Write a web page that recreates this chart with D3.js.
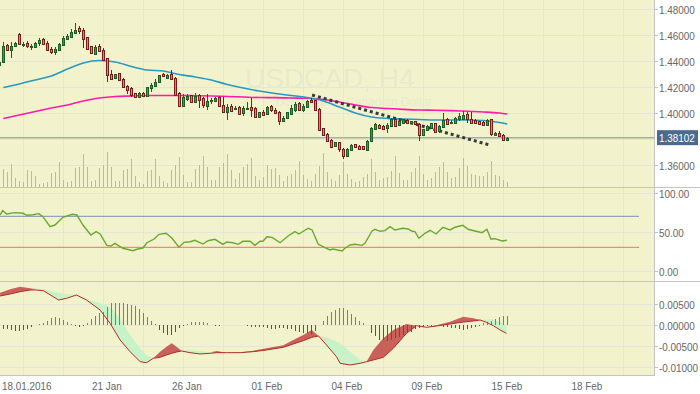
<!DOCTYPE html>
<html><head><meta charset="utf-8">
<script src="https://cdn.jsdelivr.net/npm/d3@7"></script>
<style>body{margin:0;background:#fff;font-family:"Liberation Sans",Arial,sans-serif}</style>
</head><body>
<svg id="c" width="700" height="394"></svg>
<script>
// ---- data (H4 candles, first index -1) ----
const firstIndex = -1;
const open = [1.4369,1.4392,1.4523,1.4485,1.4515,1.4608,1.4523,1.4538,1.4515,1.4508,1.4533,1.4569,1.4538,1.4492,1.4469,1.4485,1.4523,1.4569,1.4590,1.4621,1.4652,1.4641,1.4585,1.4513,1.4456,1.4513,1.4487,1.4421,1.4302,1.4267,1.4305,1.4262,1.4208,1.4192,1.4152,1.4125,1.4156,1.4131,1.4192,1.4208,1.4233,1.4300,1.4275,1.4300,1.4269,1.4154,1.4056,1.4113,1.4138,1.4087,1.4138,1.4113,1.4056,1.4087,1.4098,1.4123,1.4062,1.4010,1.4056,1.4025,1.4046,1.3995,1.4025,1.4046,1.4041,1.3969,1.4010,1.3995,1.4052,1.4025,1.4010,1.3944,1.3959,1.3990,1.4025,1.4077,1.4025,1.4046,1.4102,1.4098,1.4031,1.3882,1.3836,1.3795,1.3744,1.3775,1.3723,1.3672,1.3718,1.3759,1.3748,1.3744,1.3718,1.3785,1.3882,1.3905,1.3900,1.3879,1.3900,1.3952,1.3905,1.3921,1.3946,1.3921,1.3936,1.3915,1.3828,1.3869,1.3885,1.3921,1.3859,1.3890,1.3956,1.3921,1.3921,1.3952,1.3956,1.3992,1.3956,1.3946,1.3936,1.3931,1.3905,1.3952,1.3833,1.3849,1.3833,1.3798];
const close = [1.4392,1.4515,1.4485,1.4515,1.4538,1.4531,1.4531,1.4515,1.4519,1.4538,1.4559,1.4531,1.4485,1.4469,1.4492,1.4531,1.4577,1.4595,1.4625,1.4641,1.4631,1.4575,1.4492,1.4456,1.4508,1.4472,1.4410,1.4287,1.4267,1.4300,1.4248,1.4198,1.4177,1.4141,1.4121,1.4152,1.4131,1.4198,1.4213,1.4238,1.4290,1.4285,1.4295,1.4259,1.4141,1.4056,1.4123,1.4133,1.4087,1.4133,1.4102,1.4056,1.4092,1.4098,1.4118,1.4052,1.4010,1.4046,1.4021,1.4036,1.3995,1.4036,1.4036,1.4025,1.3969,1.4005,1.3990,1.4046,1.4025,1.4005,1.3944,1.3964,1.4005,1.4036,1.4072,1.4025,1.4056,1.4092,1.4087,1.4021,1.3872,1.3831,1.3785,1.3744,1.3775,1.3718,1.3672,1.3723,1.3754,1.3733,1.3728,1.3718,1.3785,1.3887,1.3918,1.3879,1.3875,1.3905,1.3952,1.3900,1.3936,1.3952,1.3921,1.3936,1.3910,1.3828,1.3875,1.3900,1.3921,1.3854,1.3900,1.3946,1.3921,1.3931,1.3962,1.3977,1.3987,1.3952,1.3926,1.3921,1.3910,1.3905,1.3946,1.3833,1.3849,1.3823,1.3798,1.3810];
const high = [1.4400,1.4546,1.4531,1.4546,1.4546,1.4612,1.4546,1.4554,1.4533,1.4546,1.4579,1.4577,1.4554,1.4508,1.4508,1.4538,1.4595,1.4610,1.4646,1.4692,1.4667,1.4652,1.4588,1.4515,1.4523,1.4533,1.4498,1.4425,1.4328,1.4302,1.4308,1.4272,1.4215,1.4198,1.4156,1.4162,1.4162,1.4202,1.4228,1.4264,1.4295,1.4305,1.4300,1.4331,1.4275,1.4159,1.4148,1.4144,1.4141,1.4154,1.4148,1.4123,1.4148,1.4113,1.4123,1.4128,1.4123,1.4072,1.4072,1.4056,1.4052,1.4052,1.4087,1.4113,1.4046,1.4010,1.4021,1.4052,1.4062,1.4036,1.4015,1.3975,1.4010,1.4062,1.4082,1.4087,1.4072,1.4098,1.4113,1.4102,1.4036,1.3887,1.3846,1.3800,1.3779,1.3779,1.3728,1.3733,1.3764,1.3764,1.3754,1.3748,1.3790,1.3892,1.3923,1.3915,1.3905,1.3921,1.3962,1.3956,1.3941,1.3956,1.3956,1.3941,1.3941,1.3921,1.3879,1.3910,1.3926,1.3926,1.3910,1.4002,1.3962,1.3946,1.3967,1.4002,1.4013,1.4008,1.4008,1.3952,1.3941,1.3936,1.3956,1.3956,1.3854,1.3859,1.3838,1.3815];
const low = [1.4362,1.4385,1.4477,1.4423,1.4508,1.4523,1.4508,1.4500,1.4487,1.4500,1.4518,1.4523,1.4477,1.4454,1.4446,1.4477,1.4518,1.4559,1.4585,1.4618,1.4610,1.4498,1.4482,1.4452,1.4452,1.4467,1.4405,1.4236,1.4262,1.4264,1.4246,1.4192,1.4146,1.4123,1.4118,1.4121,1.4125,1.4125,1.4162,1.4198,1.4228,1.4279,1.4269,1.4256,1.4138,1.4046,1.4052,1.4092,1.4085,1.4085,1.4041,1.4036,1.4021,1.4072,1.4092,1.4046,1.4005,1.3948,1.4015,1.4023,1.3990,1.3975,1.4021,1.3969,1.3964,1.3964,1.3985,1.3990,1.4010,1.3990,1.3908,1.3938,1.3954,1.3985,1.4005,1.4021,1.4005,1.4041,1.4082,1.4019,1.3867,1.3826,1.3775,1.3728,1.3738,1.3702,1.3646,1.3662,1.3713,1.3728,1.3723,1.3713,1.3713,1.3779,1.3877,1.3875,1.3869,1.3844,1.3895,1.3895,1.3900,1.3915,1.3915,1.3915,1.3905,1.3787,1.3823,1.3864,1.3879,1.3849,1.3849,1.3885,1.3915,1.3915,1.3915,1.3941,1.3952,1.3926,1.3921,1.3915,1.3905,1.3900,1.3900,1.3823,1.3828,1.3818,1.3792,1.3795];
const volume = [1400,1800,1500,2300,900,600,500,1700,1600,1100,300,400,500,1400,1500,2500,700,500,600,1900,2000,3300,2000,600,700,1900,2200,3500,2000,600,600,1700,1800,2800,1100,500,300,1600,1700,2800,1100,600,400,1700,2200,3000,1200,500,500,1800,2200,3100,2000,700,700,2000,2400,3300,1700,800,1400,2000,2300,2900,1100,700,1000,2200,1800,1900,1200,600,1100,1300,1700,2600,1200,800,600,1300,2100,3400,1500,800,600,1200,2500,1300,800,500,600,1000,1300,2800,1500,700,900,1000,1600,3100,1400,700,700,1500,1900,3100,1300,700,900,1500,2000,2500,1500,900,1000,1900,2900,2100,1300,1200,1100,1100,1500,2600,1200,1100,700,500];
const lastPrice = 1.38102;

// moving averages (sampled at candle indices)
const maIdx  = [0,4,8,12,16,20,24,28,32,36,40,44,48,52,56,60,64,68,72,76,80,84,88,92,96,100,104,108,112,116,120,124,126];
const maBlue = [1.4196,1.4223,1.4254,1.4285,1.4338,1.4385,1.4404,1.4392,1.4358,1.4331,1.4323,1.4296,1.4277,1.4254,1.4219,1.4192,1.4169,1.4150,1.4135,1.4119,1.4092,1.4046,1.4000,1.3969,1.3958,1.3954,1.3950,1.3946,1.3946,1.3946,1.3942,1.3927,1.3915];
const maPink = [1.3958,1.3985,1.4012,1.4038,1.4062,1.4092,1.4115,1.4127,1.4131,1.4135,1.4135,1.4135,1.4133,1.4131,1.4127,1.4123,1.4119,1.4118,1.4115,1.4113,1.4104,1.4085,1.4062,1.4042,1.4035,1.4028,1.4023,1.4021,1.4018,1.4013,1.4008,1.4000,1.3992];

// trend line
const trendIdx = [77.2, 121.9];
const trendVal = [1.4138, 1.3751];

// RSI
const rsiIdx = [-0.8,-0.15,0.85,2.9,4.9,5.9,7.4,8.9,9.9,11.7,12.9,14.9,17.2,18.4,19.9,21.9,23.2,24.2,25.9,26.9,27.9,29.9,32.4,33.4,34.9,35.9,37.7,38.9,40.7,42.2,43.9,45.2,46.7,47.9,49.9,51.2,52.9,54.9,55.9,57.4,58.7,59.9,61.7,62.9,64.2,64.9,65.9,67.2,69.2,71.2,72.9,73.9,76.2,77.2,78.7,80.4,81.7,82.4,84.7,85.4,86.7,87.9,89.7,90.4,92.2,92.9,94.2,95.4,96.7,97.9,99.9,101.2,102.2,102.9,103.9,105.4,106.7,108.2,109.9,111.7,112.9,114.9,116.2,117.9,119.7,120.9,121.9,122.9,124.7,125.9];
const rsiVal = [71.9,77.5,73.2,74.9,74.1,71.5,72.3,73.6,69.7,56.7,58.9,68.9,72.8,71.9,58.9,46.0,50.3,47.3,32.6,31.7,35.2,28.8,25.6,27.5,29.1,36.0,40.8,46.9,48.2,41.7,30.1,36.5,37.3,39.1,34.3,38.6,40.4,33.9,36.9,36.0,33.9,37.8,37.8,32.6,37.8,37.8,43.8,43.0,36.0,44.7,50.3,47.3,54.7,52.5,34.3,29.5,26.6,27.8,25.3,28.8,33.0,33.9,32.6,35.2,51.2,53.4,50.8,51.6,56.7,52.5,54.7,53.8,50.8,50.3,41.7,48.2,52.1,47.3,56.0,52.5,56.0,58.5,53.4,51.2,49.0,53.4,40.8,41.2,38.2,39.1];
const rsiLevels = [70, 30];

// MACD
const macdIdx  = [-0.8,1.7,4.2,6.7,8.3,10.0,12.5,13.8,15.8,18.3,20.8,24.2,26.7,29.2,31.7,34.2,35.8,37.5,39.2,40.8,42.1,43.3,44.6,46.7,49.2,51.7,53.3,55.8,59.2,62.5,65.8,70.0,72.5,75.0,77.1,78.8,80.8,83.3,84.2,86.7,89.2,90.8,92.5,95.0,97.5,100.8,103.3,105.8,108.3,111.7,115.0,117.5,119.2,120.8,122.5,124.2,125.8];
const macdFast = [0.00769,0.0085,0.00912,0.00873,0.00833,0.00817,0.00674,0.00595,0.00635,0.00714,0.00595,0.00357,0.0004,-0.00357,-0.00635,-0.00873,-0.00897,-0.00793,-0.00635,-0.00516,-0.00436,-0.00516,-0.00619,-0.00659,-0.0069,-0.00674,-0.00619,-0.00659,-0.00659,-0.00611,-0.00555,-0.00484,-0.00357,-0.00238,-0.00119,-0.00262,-0.00476,-0.00754,-0.00912,-0.00952,-0.00912,-0.00873,-0.00595,-0.00317,-0.00119,0.00024,-0.00016,-0.00055,-0.00008,0.00079,0.00198,0.00159,0.00119,0.00063,-0.00016,-0.00119,-0.00198];
const macdSlow = [0.0069,0.00738,0.00793,0.00833,0.00857,0.00857,0.00793,0.00769,0.00738,0.00714,0.00627,0.00516,0.00436,0.00159,-0.00238,-0.00555,-0.00714,-0.00793,-0.00769,-0.00714,-0.00674,-0.00643,-0.00619,-0.00595,-0.00619,-0.0065,-0.00659,-0.00659,-0.0065,-0.00635,-0.00595,-0.00531,-0.00452,-0.00373,-0.00293,-0.00262,-0.00293,-0.00397,-0.00436,-0.00635,-0.00833,-0.00873,-0.00833,-0.00769,-0.00555,-0.00198,-0.00016,-0.00055,-0.00024,0.00024,0.00071,0.00095,0.00119,0.00135,0.00127,0.00079,-0.00024];
const macdHist = [-0.0008,-0.00088,-0.00103,-0.00119,-0.00135,-0.00135,-0.00119,-0.00088,-0.0004,0.00005,0.00032,0.00056,0.00103,0.00159,0.00182,0.00167,0.00119,0.00063,0.00016,-0.00016,-0.0004,-0.00016,0.00056,0.00135,0.00214,0.00278,0.00317,0.00436,0.00516,0.00516,0.00516,0.00516,0.005,0.00484,0.00452,0.00373,0.00294,0.00198,0.00103,0.00016,-0.00119,-0.00182,-0.00238,-0.00238,-0.00159,-0.00063,-0.00016,0.00024,0.00079,0.00079,0.00071,0.00071,0.00048,0.00008,-0.00024,-0.00024,-0.00008,-0.00008,0.00003,-0.00008,-0.00008,0.00008,-0.00024,-0.0004,-0.0004,-0.00056,-0.00056,-0.00079,-0.00095,-0.00103,-0.00079,-0.00071,-0.00088,-0.00103,-0.00135,-0.00159,-0.00182,-0.00198,-0.00214,-0.00135,0.00003,0.00103,0.00222,0.00317,0.00357,0.00397,0.00413,0.00365,0.00262,0.00182,0.00088,0.0004,-0.00008,-0.00182,-0.00262,-0.00357,-0.00357,-0.00373,-0.00357,-0.00317,-0.00278,-0.00238,-0.00198,-0.00159,-0.00103,-0.00063,-0.0004,-0.00024,-0.00016,-0.00008,-0.00016,-0.0004,-0.00056,-0.00071,-0.00079,-0.00095,-0.00119,-0.00103,-0.00079,-0.0004,-0.00016,0.0004,0.00071,0.00087,0.00135,0.00182,0.00214,0.00222];

// ticks / labels
const priceTicks = [1.36,1.38,1.40,1.42,1.44,1.46,1.48];
const rsiTicks = [0,50,100];
const macdTicks = [0.005,0,-0.005,-0.01];
const dateLabels = ["18.01.2016","21 Jan","26 Jan","01 Feb","04 Feb","09 Feb","15 Feb","18 Feb"];
const dateIdx = [5,25,45,65,85,105,125,145];
const gridIdx = d3.range(5,160,10);
const titleText = "USDCAD, H4";
const subtitleText = "US Dollar vs Canadian Dollar";

// ---- layout ----
const W = 654;
const P = {top:0, bot:187};
const R = {top:187, bot:281};
const M = {top:281, bot:375};
const svg = d3.select("#c");
const BG = "#f2f3cc", GRID = "#e4e5dc", AX = "#c4c4c4", TXT = "#666";

const x = d3.scaleLinear().domain([-0.825, 162.675]).range([0, W]);
const yP = d3.scaleLinear().domain([1.48, 1.36]).range([9, 165]);
const yV = d3.scaleLinear().domain([0, 4000]).range([187, 147]);
const yR = d3.scaleLinear().domain([0, 100]).range([270.5, 193.3]);
const yM = d3.scaleLinear().domain([-0.01, 0.005]).range([367, 304]);

// narrow text helper
function txt(parent, tx, ty, s, size, fill, anchor){
  return parent.append("text").attr("transform",`translate(${tx},${ty}) scale(0.9,1)`)
    .attr("text-anchor",anchor||"start").attr("font-size",size).attr("fill",fill).text(s);
}

svg.append("rect").attr("x",0).attr("y",0).attr("width",W).attr("height",M.bot).attr("fill",BG);

const defs = svg.append("defs");
[["cp",P],["cr",R],["cm",M]].forEach(([id,p])=>{
  defs.append("clipPath").attr("id",id).append("rect").attr("x",0).attr("y",p.top).attr("width",W).attr("height",p.bot-p.top);
});

// grid
const g0 = svg.append("g").attr("shape-rendering","crispEdges");
gridIdx.forEach(k=>{
  const gx = Math.round(x(k))+0.5;
  g0.append("line").attr("x1",gx).attr("x2",gx).attr("y1",0).attr("y2",M.bot).attr("stroke",GRID);
});
priceTicks.forEach(v=>{ const yy=Math.round(yP(v))+0.5; g0.append("line").attr("x1",0).attr("x2",W).attr("y1",yy).attr("y2",yy).attr("stroke",GRID);});
rsiTicks.forEach(v=>{ const yy=Math.round(yR(v))+0.5; g0.append("line").attr("x1",0).attr("x2",W).attr("y1",yy).attr("y2",yy).attr("stroke",GRID);});
macdTicks.forEach(v=>{ const yy=Math.round(yM(v))+0.5; g0.append("line").attr("x1",0).attr("x2",W).attr("y1",yy).attr("y2",yy).attr("stroke",GRID);});

// watermark
svg.append("text").attr("x",245).attr("y",88).attr("font-size",28).attr("fill","#e8eacd").text(titleText);
svg.append("text").attr("x",276).attr("y",106).attr("font-size",12).attr("fill","#e8eacd").text(subtitleText);

// ---- main panel ----
const gp = svg.append("g").attr("clip-path","url(#cp)");
const gv = gp.append("g").attr("shape-rendering","crispEdges");
volume.forEach((v,i)=>{
  const k=i+firstIndex, px=Math.round(x(k))+0.5;
  gv.append("line").attr("x1",px).attr("x2",px).attr("y1",yV(0)).attr("y2",yV(v)).attr("stroke","#8cc8dc").attr("stroke-width",1);
});
gp.append("line").attr("x1",0).attr("x2",W).attr("y1",yP(lastPrice)).attr("y2",yP(lastPrice)).attr("stroke","#a4acab").attr("stroke-width",1.5);
const maLine = arr => d3.line().x((d,i)=>x(maIdx[i])).y(d=>yP(d)).curve(d3.curveMonotoneX)(arr);
gp.append("path").attr("d",maLine(maPink)).attr("fill","none").attr("stroke","#ff1aa8").attr("stroke-width",1.6);
gp.append("path").attr("d",maLine(maBlue)).attr("fill","none").attr("stroke","#2a98c0").attr("stroke-width",1.6);
gp.append("line").attr("x1",x(trendIdx[0])).attr("x2",x(trendIdx[1])).attr("y1",yP(trendVal[0])).attr("y2",yP(trendVal[1]))
  .attr("stroke","#3a3a3a").attr("stroke-width",3).attr("stroke-dasharray","3,3");
const gc = gp.append("g").attr("shape-rendering","crispEdges");
open.forEach((o,i)=>{
  const k=i+firstIndex, c=close[i], up=c>=o;
  const px=Math.round(x(k));
  const stroke = up ? "#1d5e22" : "#7d1a1a";
  const fill = up ? "#3f9a45" : "#e0807a";
  gc.append("line").attr("x1",px+0.5).attr("x2",px+0.5).attr("y1",yP(high[i])).attr("y2",yP(low[i])).attr("stroke",stroke);
  const yt=yP(Math.max(o,c)), yb=yP(Math.min(o,c));
  gc.append("rect").attr("x",px-0.5).attr("y",Math.round(yt)+0.5).attr("width",2).attr("height",Math.max(1,Math.round(yb-yt)))
    .attr("fill",fill).attr("stroke",stroke);
});

// ---- RSI ----
const gr = svg.append("g").attr("clip-path","url(#cr)");
gr.append("line").attr("x1",0).attr("x2",639).attr("y1",yR(rsiLevels[0])).attr("y2",yR(rsiLevels[0])).attr("stroke","#8ea6bc").attr("stroke-width",1.2);
gr.append("line").attr("x1",0).attr("x2",639).attr("y1",yR(rsiLevels[1])).attr("y2",yR(rsiLevels[1])).attr("stroke","#ee8a7c").attr("stroke-width",1.2);
gr.append("path").attr("d",d3.line().x((d,i)=>x(rsiIdx[i])).y(d=>yR(d))(rsiVal)).attr("fill","none").attr("stroke","#6aa82e").attr("stroke-width",1.4);

// ---- MACD ----
const gm = svg.append("g").attr("clip-path","url(#cm)");
const mx = (d,i)=>x(macdIdx[i]);
const hi = i=>Math.max(macdFast[i],macdSlow[i]);
gm.append("path").attr("d",d3.area().x(mx).y0((d,i)=>yM(macdSlow[i])).y1((d,i)=>yM(hi(i)))(macdIdx)).attr("fill","#c9615a");
gm.append("path").attr("d",d3.area().x(mx).y0((d,i)=>yM(macdFast[i])).y1((d,i)=>yM(hi(i)))(macdIdx)).attr("fill","#c8f2c8");
const gh = gm.append("g").attr("shape-rendering","crispEdges");
macdHist.forEach((v,i)=>{
  const k=i+firstIndex, px=Math.round(x(k))+0.5;
  gh.append("line").attr("x1",px).attr("x2",px).attr("y1",yM(0)).attr("y2",yM(v)).attr("stroke", v>=0 ? "#5e9e1c" : "#555").attr("stroke-width",1);
});
gm.append("path").attr("d",d3.line().x(mx).y((d,i)=>yM(Math.min(macdFast[i],macdSlow[i])))(macdIdx)).attr("fill","none").attr("stroke","#b42a2a").attr("stroke-width",1);

// ---- frames & axes ----
const gf = svg.append("g").attr("shape-rendering","crispEdges");
gf.append("line").attr("x1",0).attr("x2",700).attr("y1",187.5).attr("y2",187.5).attr("stroke",AX);
gf.append("line").attr("x1",0).attr("x2",700).attr("y1",281.5).attr("y2",281.5).attr("stroke",AX);
gf.append("line").attr("x1",0).attr("x2",W).attr("y1",375.5).attr("y2",375.5).attr("stroke",AX);
gf.append("line").attr("x1",W+0.5).attr("x2",W+0.5).attr("y1",0).attr("y2",376).attr("stroke",AX);

function yLabels(ticks, sc, fmt){
  ticks.forEach(v=>{
    const yy=Math.round(sc(v))+0.5;
    gf.append("line").attr("x1",W).attr("x2",W+4).attr("y1",yy).attr("y2",yy).attr("stroke",AX);
    txt(svg, W+5, yy+4, fmt(v), 11, TXT);
  });
}
yLabels(priceTicks.filter(v=>v!==1.38), yP, d3.format(".5f"));
yLabels(rsiTicks, yR, d3.format(".2f"));
yLabels(macdTicks, yM, v=>d3.format(".5f")(v).replace("\u2212","-"));

// price box
const py = yP(lastPrice);
svg.append("rect").attr("x",657).attr("y",py-7.5).attr("width",41).attr("height",15).attr("fill","#4a6b8f");
txt(svg, 659, py+4, d3.format(".5f")(lastPrice), 11, "#fff");

// x labels
dateLabels.forEach((t,i)=>{
  txt(svg, x(dateIdx[i])+3.5, 390, t, 11, TXT, "middle");
});
</script>
</body></html>
